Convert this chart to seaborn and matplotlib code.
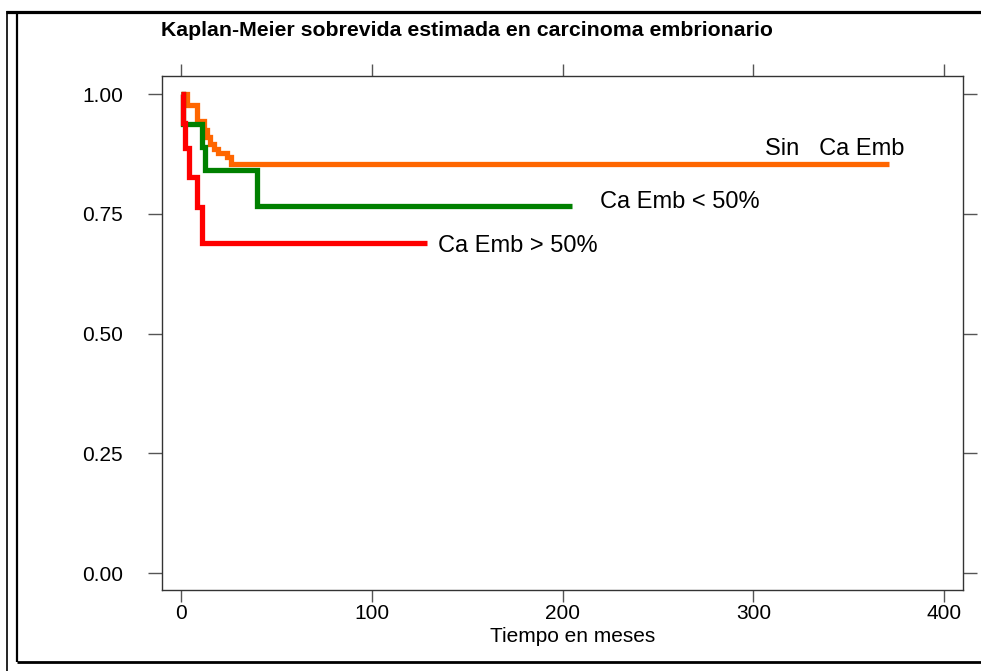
import matplotlib
matplotlib.use("Agg")
import matplotlib.pyplot as plt
from matplotlib.lines import Line2D
import numpy as np
import pandas as pd
import seaborn as sns

# ---- data ----
t_sin = [0, 3, 8, 12, 13.5, 15, 17, 19, 24, 26, 371]
s_sin = [1.0, 0.978, 0.943, 0.925, 0.91, 0.895, 0.885, 0.878, 0.868, 0.854, 0.854]

t_menor = [0, 1, 11, 12.5, 39.5, 205]
s_menor = [1.0, 0.9375, 0.89, 0.842, 0.767, 0.767]

t_mayor = [0, 1, 2, 4, 8, 11, 129]
s_mayor = [1.0, 0.94, 0.888, 0.828, 0.765, 0.689, 0.689]

grupos = ["Sin   Ca Emb", "Ca Emb < 50%", "Ca Emb > 50%"]
colores = ["#FF6600", "#008000", "#FF0000"]

x_ticks = [0, 100, 200, 300, 400]
y_ticks = [0.0, 0.25, 0.5, 0.75, 1.0]
y_ticklabels = ["0.00", "0.25", "0.50", "0.75", "1.00"]

titulo = "Kaplan-Meier sobrevida estimada en carcinoma embrionario"
xlab = "Tiempo en meses"

df = pd.concat([
    pd.DataFrame({"t": t_sin, "s": s_sin, "grupo": grupos[0]}),
    pd.DataFrame({"t": t_menor, "s": s_menor, "grupo": grupos[1]}),
    pd.DataFrame({"t": t_mayor, "s": s_mayor, "grupo": grupos[2]}),
], ignore_index=True)

# ---- style ----
sns.set_style("white")
plt.rcParams["font.family"] = ["Liberation Sans", "DejaVu Sans"]
plt.rcParams["text.color"] = "black"
plt.rcParams["axes.labelcolor"] = "black"

W, H = 981, 671
fig = plt.figure(figsize=(W / 100, H / 100), dpi=100)
ax = fig.add_axes([161.7 / W, 1 - 590 / H, (962.7 - 161.7) / W, (590 - 76) / H])

sns.lineplot(data=df, x="t", y="s", hue="grupo", hue_order=grupos,
             palette=dict(zip(grupos, colores)), estimator=None,
             drawstyle="steps-post", linewidth=3.8, legend=False, ax=ax,
             solid_capstyle="butt", solid_joinstyle="miter")

ax.set_xlim(-10.3, 409.8)
ax.set_ylim(-0.0355, 1.038)
ax.set_xticks(x_ticks)
ax.set_xticklabels([str(v) for v in x_ticks])
ax.set_yticks(y_ticks)
ax.set_yticklabels(y_ticklabels)
ax.set_ylabel("")
ax.set_xlabel(xlab, fontsize=15, va="baseline", color="black")
ax.xaxis.set_label_coords((573 - 161.7) / (962.7 - 161.7), -(641.7 - 590) / (590 - 76))

for sp in ax.spines.values():
    sp.set_visible(True)
    sp.set_color("#333333")
    sp.set_linewidth(1.0)

ax.tick_params(axis="both", which="both", direction="out", colors="#555555",
               labelcolor="black", labelsize=15, width=1.0,
               top=True, right=True, left=True, bottom=True)
ax.tick_params(axis="y", length=10, pad=18)
ax.tick_params(axis="x", length=8.4, pad=2)

# curve labels
ax.text(306, 0.873, grupos[0], fontsize=17, ha="left", va="baseline", color="black")
ax.text(219.7, 0.7625, grupos[1], fontsize=17, ha="left", va="baseline", color="black")
ax.text(134.7, 0.671, grupos[2], fontsize=17, ha="left", va="baseline", color="black")

# title
fig.text(161 / W, 1 - 36 / H, titulo, fontsize=15.3, fontweight="bold",
         ha="left", va="baseline", color="black")

# outer frame lines (figure border)
def px_line(x0, y0, x1, y1, lw):
    fig.add_artist(Line2D([x0 / W, x1 / W], [1 - y0 / H, 1 - y1 / H],
                          transform=fig.transFigure, color="black", linewidth=lw,
                          solid_capstyle="butt"))

px_line(6.8, 11, 6.8, H, 1.2)
px_line(6, 12.3, W, 12.3, 2.3)
px_line(17.4, 12, 17.4, 662.3, 1.6)
px_line(16.5, 662.3, W, 662.3, 2.0)

fig.savefig("out.png", dpi=100)
